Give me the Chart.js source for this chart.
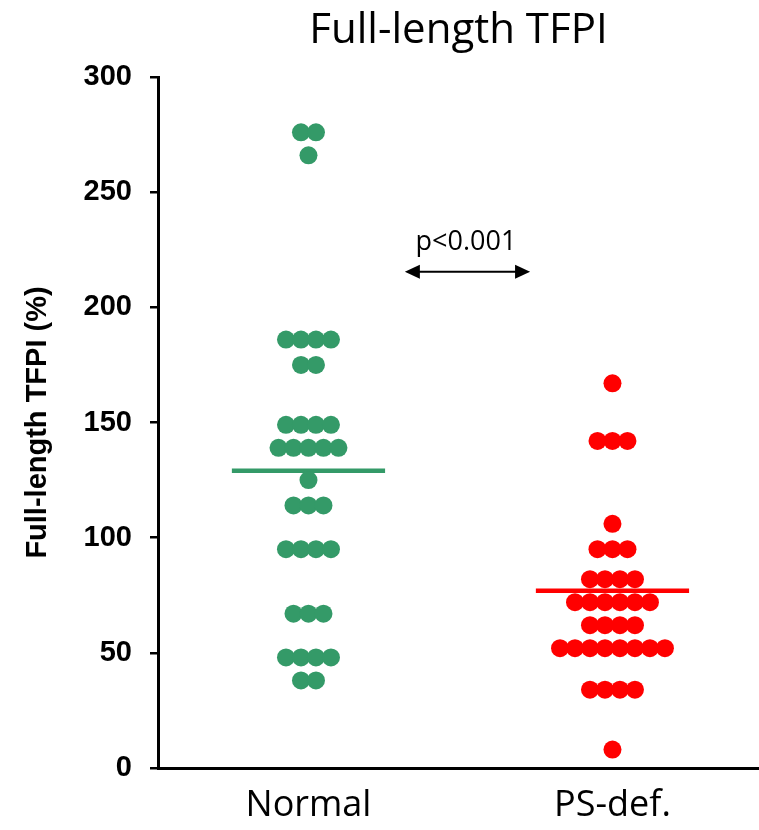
<!DOCTYPE html>
<html>
<head>
<meta charset="utf-8">
<script src="https://cdn.jsdelivr.net/npm/chart.js@4.4.0/dist/chart.umd.min.js"></script>
<style>
  html, body { margin: 0; padding: 0; background: #fff; }
  #wrap { width: 759px; height: 830px; }
</style>
</head>
<body>
<div id="wrap"><canvas id="c" width="759" height="830"></canvas></div>
<script>
// 数据
const groups = ['Normal', 'PS-def.'];
const normalValues = [276, 276, 266, 186, 186, 186, 186, 175, 175,
  149, 149, 149, 149, 139, 139, 139, 139, 139, 125, 114, 114, 114,
  95, 95, 95, 95, 67, 67, 67, 48, 48, 48, 48, 38, 38];
const psDefValues = [167, 142, 142, 142, 106, 95, 95, 95, 82, 82, 82, 82,
  72, 72, 72, 72, 72, 72, 62, 62, 62, 62, 52, 52, 52, 52, 52, 52, 52, 52,
  34, 34, 34, 34, 8];
const groupLines = [129, 77];
const yTicks = [0, 50, 100, 150, 200, 250, 300];
const pLabel = 'p<0.001';

const GREEN = '#349a68';
const RED = '#ff0000';
const DOT_STEP = 0.0493;  // 同值点水平间距
const LINE_HALF = 0.252;  // 横线半宽
const TEXT_FONT = '"Open Sans", sans-serif';
const BOLD_FONT = '"Liberation Sans", Arial, sans-serif';

// 同值的点左右散开
function swarm(values, center) {
  const counts = {};
  values.forEach(function(v) { counts[v] = (counts[v] || 0) + 1; });
  const used = {};
  return values.map(function(v) {
    const n = counts[v];
    const i = used[v] || 0;
    used[v] = i + 1;
    return { x: center + (i - (n - 1) / 2) * DOT_STEP, y: v };
  });
}

function lineData(center, value) {
  return [{ x: center - LINE_HALF, y: value }, { x: center + LINE_HALF, y: value }];
}

// p值箭头
const arrowPlugin = {
  id: 'arrow',
  afterDatasetsDraw: function(chart) {
    const ctx = chart.ctx;
    const xs = chart.scales.x, ys = chart.scales.y;
    const x1 = xs.getPixelForValue(1.317), x2 = xs.getPixelForValue(1.729);
    const y = ys.getPixelForValue(215.5);
    ctx.save();
    ctx.strokeStyle = '#000';
    ctx.fillStyle = '#000';
    ctx.lineWidth = 2;
    ctx.beginPath();
    ctx.moveTo(x1 + 10, y);
    ctx.lineTo(x2 - 10, y);
    ctx.stroke();
    [[x1, 1], [x2, -1]].forEach(function(a) {
      ctx.beginPath();
      ctx.moveTo(a[0], y);
      ctx.lineTo(a[0] + a[1] * 15, y - 7);
      ctx.lineTo(a[0] + a[1] * 15, y + 7);
      ctx.closePath();
      ctx.fill();
    });
    ctx.font = '27px ' + TEXT_FONT;
    ctx.textAlign = 'center';
    ctx.textBaseline = 'alphabetic';
    ctx.fillText(pLabel, xs.getPixelForValue(1.518), ys.getPixelForValue(225));
    ctx.restore();
  }
};

new Chart(document.getElementById('c').getContext('2d'), {
  type: 'scatter',
  data: {
    datasets: [
      { data: swarm(normalValues, 1), backgroundColor: GREEN, pointRadius: 9, pointHoverRadius: 9, borderWidth: 0 },
      { data: swarm(psDefValues, 2), backgroundColor: RED, pointRadius: 9, pointHoverRadius: 9, borderWidth: 0 },
      { type: 'line', data: lineData(1, groupLines[0]), borderColor: GREEN, borderWidth: 4.5, pointRadius: 0 },
      { type: 'line', data: lineData(2, groupLines[1]), borderColor: RED, borderWidth: 4.5, pointRadius: 0 }
    ]
  },
  options: {
    responsive: false,
    animation: false,
    layout: { autoPadding: false, padding: 0 },
    plugins: {
      legend: { display: false },
      tooltip: { enabled: false },
      title: {
        display: true,
        fullSize: false,
        text: 'Full-length TFPI',
        color: '#000',
        font: { family: TEXT_FONT, size: 42, weight: 'normal', lineHeight: 1.2 },
        padding: { top: 6, bottom: 20.6 },
        align: 'center'
      }
    },
    scales: {
      x: {
        type: 'linear',
        min: 0.505,
        max: 2.482,
        afterBuildTicks: function(scale) {
          scale.ticks = groups.map(function(g, i) { return { value: i + 1 }; });
        },
        afterFit: function(scale) {
          scale.height = 62;
          scale.paddingLeft = 0;
          scale.paddingRight = 0;
        },
        ticks: {
          callback: function(v) { return groups[v - 1]; },
          color: '#000',
          font: { family: TEXT_FONT, size: 36 },
          padding: 8,
          maxRotation: 0
        },
        grid: { display: false },
        border: { display: true, color: '#000', width: 3 }
      },
      y: {
        min: 0,
        max: 300,
        afterBuildTicks: function(scale) {
          scale.ticks = yTicks.map(function(v) { return { value: v }; });
        },
        afterFit: function(scale) { scale.width = 158; },
        title: {
          display: true,
          text: 'Full-length TFPI (%)',
          color: '#000',
          font: { family: BOLD_FONT, size: 29, weight: 'bold' },
          padding: { top: 21, bottom: 0 }
        },
        ticks: {
          color: '#000',
          font: { family: BOLD_FONT, size: 29, weight: 'bold' },
          padding: 18
        },
        grid: { drawOnChartArea: false, drawTicks: true, tickLength: 8, color: '#000', lineWidth: 2.5 },
        border: { display: true, color: '#000', width: 3 }
      }
    }
  },
  plugins: [arrowPlugin]
});
</script>
</body>
</html>
